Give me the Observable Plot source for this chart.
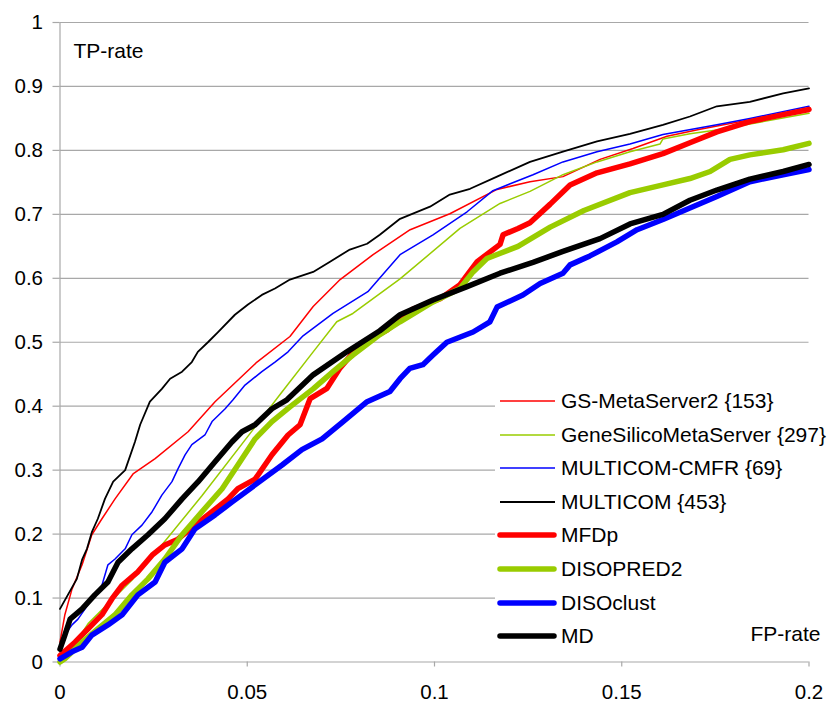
<!DOCTYPE html>
<html>
<head>
<meta charset="utf-8">
<script src="https://cdn.jsdelivr.net/npm/d3@7"></script>
<script src="https://cdn.jsdelivr.net/npm/@observablehq/plot@0.6"></script>
<style>
  html, body { margin: 0; padding: 0; background: #fff; }
  #wrap { position: relative; width: 834px; height: 702px; font-family: "Liberation Sans", Arial, sans-serif; }
  #legend { position: absolute; left: 495px; top: 380px; width: 314px; height: 228px; background: #fff; overflow: visible; }
  .row { position: absolute; left: 0; height: 33.6px; display: flex; align-items: center; font-size: 21px; color: #000; white-space: nowrap; }
  .row svg { display: block; margin-right: 4px; }
</style>
</head>
<body>
<div id="wrap"></div>
<script>
// ---- Data ----
const xTicks = [0, 0.05, 0.1, 0.15, 0.2];
const yTicks = [0, 0.1, 0.2, 0.3, 0.4, 0.5, 0.6, 0.7, 0.8, 0.9, 1];
const xAxisLabel = "FP-rate";
const yAxisLabel = "TP-rate";

const seriesNames = ["GS-MetaServer2 {153}", "GeneSilicoMetaServer {297}", "MULTICOM-CMFR {69}", "MULTICOM {453}", "MFDp", "DISOPRED2", "DISOclust", "MD"];

const gsMetaServer2 = [[0,0.031],[0.0013,0.074],[0.0032,0.114],[0.0059,0.152],[0.0085,0.199],[0.0112,0.224],[0.0147,0.255],[0.0195,0.294],[0.0254,0.318],[0.0342,0.36],[0.0414,0.407],[0.0526,0.469],[0.0614,0.509],[0.0676,0.556],[0.0748,0.598],[0.0836,0.637],[0.0935,0.676],[0.1041,0.701],[0.1167,0.739],[0.1255,0.751],[0.1343,0.759],[0.1442,0.786],[0.153,0.803],[0.1621,0.822],[0.1709,0.833],[0.1842,0.848],[0.2,0.865]];

const geneSilicoMetaServer = [[0,0],[0.0013,0.005],[0.0075,0.06],[0.0195,0.13],[0.0254,0.17],[0.0379,0.26],[0.0515,0.363],[0.0587,0.418],[0.0676,0.485],[0.0739,0.532],[0.0782,0.545],[0.0908,0.599],[0.1068,0.678],[0.1175,0.717],[0.1255,0.736],[0.1343,0.762],[0.1434,0.782],[0.1522,0.798],[0.1602,0.81],[0.161,0.818],[0.1682,0.826],[0.1754,0.832],[0.2,0.858]];

const multicomCmfr = [[0,0.02],[0.0019,0.047],[0.0032,0.058],[0.0048,0.067],[0.0067,0.083],[0.0085,0.099],[0.0112,0.12],[0.0128,0.152],[0.0147,0.161],[0.0174,0.177],[0.0192,0.199],[0.0219,0.214],[0.0246,0.235],[0.0272,0.261],[0.0299,0.282],[0.0315,0.302],[0.0334,0.324],[0.0352,0.34],[0.0387,0.355],[0.0406,0.376],[0.0441,0.396],[0.0462,0.41],[0.0494,0.433],[0.0539,0.454],[0.0574,0.469],[0.0609,0.485],[0.0649,0.51],[0.0729,0.545],[0.0822,0.579],[0.0862,0.606],[0.0908,0.637],[0.0996,0.668],[0.1087,0.704],[0.1156,0.737],[0.1263,0.762],[0.1343,0.782],[0.1434,0.798],[0.1522,0.81],[0.161,0.825],[0.1754,0.84],[0.1842,0.85],[0.2,0.869]];

const multicom = [[0,0.083],[0.0021,0.105],[0.0045,0.13],[0.0059,0.16],[0.0072,0.177],[0.0085,0.203],[0.0101,0.224],[0.012,0.255],[0.0142,0.282],[0.0174,0.30],[0.020,0.344],[0.0214,0.371],[0.024,0.407],[0.0272,0.427],[0.0294,0.443],[0.0326,0.454],[0.0352,0.469],[0.0368,0.485],[0.0395,0.50],[0.0422,0.516],[0.0467,0.543],[0.0502,0.559],[0.0539,0.574],[0.0574,0.584],[0.0614,0.598],[0.0676,0.61],[0.0721,0.626],[0.0774,0.645],[0.082,0.654],[0.0854,0.668],[0.0908,0.693],[0.0988,0.712],[0.1041,0.731],[0.1095,0.74],[0.1167,0.759],[0.1255,0.782],[0.1343,0.798],[0.1434,0.814],[0.1522,0.826],[0.161,0.84],[0.1682,0.853],[0.1754,0.869],[0.1842,0.876],[0.1931,0.889],[0.2,0.897]];

const mfdp = [[0,0.01],[0.004,0.031],[0.0075,0.052],[0.0112,0.074],[0.0139,0.099],[0.0166,0.12],[0.0208,0.141],[0.0246,0.167],[0.028,0.183],[0.0315,0.192],[0.036,0.214],[0.0406,0.235],[0.0449,0.255],[0.0475,0.271],[0.0521,0.286],[0.0566,0.324],[0.0609,0.355],[0.0641,0.371],[0.0668,0.412],[0.0713,0.428],[0.0748,0.46],[0.0801,0.496],[0.0873,0.519],[0.0943,0.552],[0.1015,0.568],[0.1068,0.59],[0.1114,0.626],[0.1175,0.653],[0.1183,0.668],[0.1223,0.678],[0.1255,0.687],[0.1309,0.716],[0.1362,0.746],[0.1434,0.765],[0.1522,0.779],[0.161,0.795],[0.1682,0.812],[0.1754,0.829],[0.1842,0.845],[0.1931,0.856],[0.2,0.864]];

const disopred2 = [[0,0],[0.0013,0.005],[0.0059,0.031],[0.0101,0.052],[0.0147,0.074],[0.0192,0.105],[0.0235,0.13],[0.028,0.161],[0.0326,0.199],[0.0379,0.235],[0.0433,0.271],[0.0475,0.308],[0.0521,0.349],[0.0566,0.376],[0.0614,0.399],[0.0676,0.427],[0.0729,0.454],[0.0782,0.48],[0.0854,0.512],[0.0908,0.532],[0.0996,0.563],[0.1068,0.584],[0.1103,0.61],[0.114,0.631],[0.1223,0.65],[0.1309,0.68],[0.1399,0.706],[0.1522,0.734],[0.161,0.746],[0.1682,0.756],[0.1736,0.767],[0.1789,0.786],[0.1842,0.793],[0.1931,0.801],[0.2,0.811]];

const disoclust = [[0,0.005],[0.0032,0.016],[0.0059,0.023],[0.0085,0.042],[0.0128,0.058],[0.0166,0.074],[0.0208,0.105],[0.0254,0.125],[0.028,0.156],[0.0326,0.177],[0.036,0.208],[0.0414,0.23],[0.0459,0.25],[0.0521,0.277],[0.0593,0.308],[0.0646,0.332],[0.07,0.349],[0.0756,0.376],[0.082,0.407],[0.0881,0.423],[0.0908,0.443],[0.0934,0.459],[0.0969,0.465],[0.0996,0.48],[0.1033,0.50],[0.1103,0.516],[0.1148,0.532],[0.1167,0.555],[0.1236,0.574],[0.1282,0.592],[0.1343,0.608],[0.1362,0.621],[0.1415,0.635],[0.1487,0.657],[0.1541,0.676],[0.161,0.692],[0.1682,0.71],[0.1754,0.728],[0.1842,0.751],[0.1931,0.762],[0.2,0.77]];

const md = [[0,0.02],[0.0013,0.042],[0.0027,0.067],[0.0059,0.083],[0.0093,0.105],[0.0128,0.125],[0.0155,0.156],[0.0192,0.177],[0.0235,0.199],[0.028,0.224],[0.0326,0.255],[0.0369,0.282],[0.0414,0.313],[0.0459,0.344],[0.0486,0.36],[0.0521,0.371],[0.0566,0.396],[0.0606,0.41],[0.0676,0.449],[0.0766,0.485],[0.0854,0.518],[0.0908,0.543],[0.0996,0.566],[0.1087,0.587],[0.1175,0.608],[0.1263,0.625],[0.1343,0.642],[0.1442,0.662],[0.1522,0.685],[0.161,0.70],[0.1682,0.722],[0.1754,0.738],[0.1842,0.755],[0.1931,0.767],[0.2,0.778]];

const seriesValues = [gsMetaServer2, geneSilicoMetaServer, multicomCmfr, multicom, mfdp, disopred2, disoclust, md];

// ---- Styles ----
const seriesColors = ["#ff0000", "#99cc00", "#0000ff", "#000000", "#ff0000", "#99cc00", "#0000ff", "#000000"];
const seriesWidths = [1.5, 1.5, 1.5, 1.8, 5.5, 5.5, 5.5, 5.5];
const gridColor = "#a8a8a8";

const table = seriesValues.flatMap((pts, i) => pts.map(([x, y]) => ({series: seriesNames[i], x, y})));
const fmt = d => String(+d.toFixed(2));

const chart = Plot.plot({
  width: 834,
  height: 702,
  marginLeft: 59.5,
  marginRight: 25.5,
  marginTop: 22,
  marginBottom: 40.5,
  style: {fontFamily: '"Liberation Sans", Arial, sans-serif', fontSize: "20.5px", color: "#000", background: "#fff", overflow: "visible"},
  x: {domain: [0, 0.2], label: null},
  y: {domain: [0, 1], label: null},
  marks: [
    Plot.gridY(yTicks, {stroke: gridColor, strokeOpacity: 1, strokeWidth: 1.2}),
    Plot.ruleX([0], {stroke: gridColor, strokeWidth: 1.2}),
    Plot.axisY(yTicks, {tickSize: 7, tickPadding: 10, stroke: gridColor, strokeWidth: 1.2, tickFormat: fmt, fill: "#000", label: null}),
    Plot.axisX(xTicks, {tickSize: 5, tickPadding: 17, stroke: gridColor, strokeWidth: 1.2, tickFormat: fmt, fill: "#000", label: null}),
    ...seriesNames.map((name, i) =>
      Plot.line(table.filter(d => d.series === name), {x: "x", y: "y", stroke: seriesColors[i], strokeWidth: seriesWidths[i], strokeLinejoin: "round", strokeLinecap: "round"})
    ),
    Plot.text([yAxisLabel], {frameAnchor: "top-left", text: d => d, textAnchor: "start", lineAnchor: "top", dx: 13.5, dy: 21, fill: "#000", fontSize: 21}),
    Plot.text([xAxisLabel], {frameAnchor: "bottom-right", text: d => d, textAnchor: "end", lineAnchor: "middle", dx: 11.5, dy: -28, fill: "#000", fontSize: 21})
  ]
});

const wrap = document.getElementById("wrap");
wrap.appendChild(chart);

// ---- Legend (overlay box, white background covers gridlines) ----
const legend = document.createElement("div");
legend.id = "legend";
seriesNames.forEach((name, i) => {
  const row = document.createElement("div");
  row.className = "row";
  row.style.top = (4.2 + i * 33.6) + "px";
  const thick = seriesWidths[i] > 3;
  const svg = d3.create("svg").attr("width", 62).attr("height", 12);
  svg.append("line")
    .attr("x1", 5).attr("x2", thick ? 59 : 60)
    .attr("y1", 6).attr("y2", 6)
    .attr("stroke", seriesColors[i])
    .attr("stroke-width", seriesWidths[i])
    .attr("stroke-linecap", thick ? "round" : "butt");
  row.appendChild(svg.node());
  const span = document.createElement("span");
  span.textContent = name;
  row.appendChild(span);
  legend.appendChild(row);
});
wrap.appendChild(legend);
</script>
</body>
</html>
